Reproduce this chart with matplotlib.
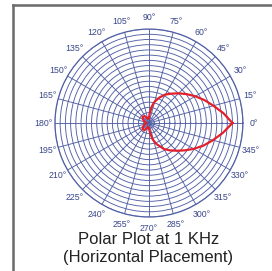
import matplotlib
matplotlib.use("Agg")
import matplotlib.pyplot as plt
import numpy as np
from matplotlib.lines import Line2D

# ── Data ─────────────────────────────────────────────────────────────
angles_deg = [0, 7.5, 15, 22.5, 30, 37.5, 45, 52.5, 60, 67.5, 75, 80, 85, 90,
              100, 120, 135, 150, 165, 180, 195, 210, 225, 240, 260, 270,
              277, 283, 290, 300, 307.5, 315, 322.5, 330, 337.5, 345, 352.5, 360]
response = [32.0, 28.8, 25.6, 23.0, 20.5, 18.2, 16.1, 14.2, 12.6, 10.6, 8.5, 6.5, 3.8, 2.0,
            1.5, 3.0, 3.5, 2.5, 1.5, 1.0, 1.5, 2.5, 3.5, 3.0, 1.5, 2.0,
            3.8, 6.5, 8.6, 11.5, 13.2, 15.0, 17.2, 19.8, 22.6, 25.4, 28.6, 32.0]
theta_ticks = list(range(0, 360, 15))
theta_labels = [f"{t}°" for t in theta_ticks]
ring_values = list(range(2, 37, 2))
title_lines = ["Polar Plot at 1 KHz", "(Horizontal Placement)"]

GRID = "#5260a6"
LABEL = "#3a4789"
CURVE = "#e4202a"

fig = plt.figure(figsize=(2.72, 2.71), dpi=100)
fig.patch.set_facecolor("white")

ax = fig.add_axes([0.202, 0.199, 0.691, 0.694], projection="polar")
ax.set_facecolor("white")
ax.set_ylim(0, 36)
ax.set_thetagrids(theta_ticks, theta_labels, fontsize=6.3, color=LABEL,
                  family="Liberation Sans")
ax.set_rgrids(ring_values, labels=[""] * len(ring_values))
ax.grid(True, color=GRID, linewidth=0.65)
ax.tick_params(axis="x", pad=-2.5)
ax.spines["polar"].set_color(GRID)
ax.spines["polar"].set_linewidth(0.9)

ax.plot(np.radians(angles_deg), response, color=CURVE, linewidth=1.6)

# ── Caption ──────────────────────────────────────────────────────────
fig.text(0.546, 0.115, title_lines[0], ha="center", va="center",
         fontsize=12, color="#222222", family="Liberation Sans")
fig.text(0.546, 0.048, title_lines[1], ha="center", va="center",
         fontsize=12, color="#222222", family="Liberation Sans")

# ── Frame ────────────────────────────────────────────────────────────
fig.add_artist(Line2D([0.048, 1.0], [0.981, 0.981], color="#6a6a6a",
                      linewidth=1.8, transform=fig.transFigure))
fig.add_artist(Line2D([0.048, 0.048], [0.0, 0.981], color="#6a6a6a",
                      linewidth=1.8, transform=fig.transFigure))

fig.savefig("out.png", dpi=100, facecolor="white")
